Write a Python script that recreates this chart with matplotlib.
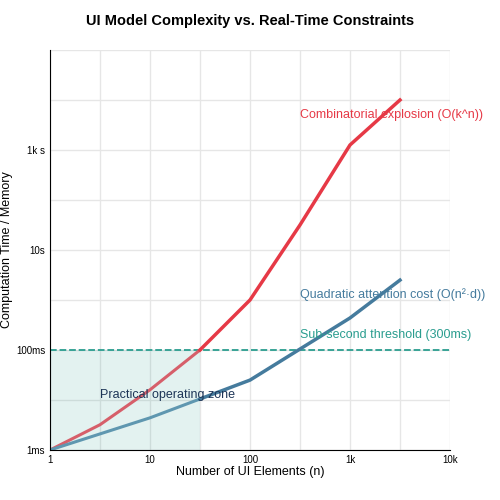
import matplotlib.pyplot as plt
import numpy as np

plt.rcParams['font.family'] = ['Liberation Sans', 'DejaVu Sans']

# values (x: UI elements, y: time in ms)
n_vals = [1, 3.16, 10, 31.6, 100, 316, 1000, 3162]
exp_cost = [1, 3.2, 16, 100, 1000, 31600, 1.26e6, 1e7]
n_quad = [1, 10, 100, 1000, 3162]
quad_cost = [1, 4.4, 25, 437, 2500]
threshold = 100
zone_n = 31.6

y_ticks = [1, 100, 1e4, 1e6]
y_labels = ['1ms', '100ms', '10s', '1k s']
x_ticks = [1, 10, 100, 1000, 10000]
x_labels = ['1', '10', '100', '1k', '10k']

red = '#e63946'
blue = '#457b9d'
teal = '#2a9d8f'

fig, ax = plt.subplots(figsize=(5, 5), dpi=100)
ax.set_xscale('log')
ax.set_yscale('log')
ax.set_xlim(1, 10000)
ax.set_ylim(1, 1e8)

for g in 10 ** np.arange(0, 4.01, 0.5):
    ax.axvline(g, color='#e6e6e6', lw=1, zorder=0)
for g in 10 ** np.arange(0, 8.01, 1.0):
    ax.axhline(g, color='#e6e6e6', lw=1, zorder=0)

ax.fill_between([1, zone_n], 1, threshold, color=teal, alpha=0.13, lw=0)
ax.axhline(threshold, color=teal, ls='--', lw=1.3)

# exponential curve: lighter inside the operating zone
i = n_vals.index(zone_n)
ax.plot(n_vals[:i + 1], exp_cost[:i + 1], color='#d65f6a', lw=2.2)
ax.plot(n_vals[i:], exp_cost[i:], color=red, lw=2.5)
qx = np.array(n_quad, dtype=float)
qy = np.array(quad_cost, dtype=float)
zy = np.interp(np.log10(zone_n), np.log10(qx), np.log10(qy))
ax.plot([1, 10, zone_n], [1, 4.4, 10 ** zy], color='#5f97b0', lw=2.2)
ax.plot([zone_n] + n_quad[2:], [10 ** zy] + quad_cost[2:], color=blue, lw=2.5)

ax.text(316, 5e6, 'Combinatorial explosion (O(k^n))', color=red, fontsize=9, va='center')
ax.text(316, 1260, 'Quadratic attention cost (O(n²·d))', color=blue, fontsize=9, va='center')
ax.text(316, 200, 'Sub-second threshold (300ms)', color=teal, fontsize=9, va='center')
ax.text(3.16, 12.6, 'Practical operating zone', color='#1d3557', fontsize=9, va='center')

ax.set_xticks(x_ticks)
ax.set_xticklabels(x_labels)
ax.set_yticks(y_ticks)
ax.set_yticklabels(y_labels)
ax.minorticks_off()
ax.tick_params(length=0, labelsize=7)
for s in ['top', 'right']:
    ax.spines[s].set_visible(False)
ax.set_xlabel('Number of UI Elements (n)', fontsize=9, labelpad=1)
ax.set_ylabel('Computation Time / Memory', fontsize=9, labelpad=2)
ax.set_title('UI Model Complexity vs. Real-Time Constraints', fontsize=10.5, fontweight='bold', pad=18)
plt.subplots_adjust(left=0.1, right=0.9, top=0.9, bottom=0.1)
plt.savefig('out.png')
